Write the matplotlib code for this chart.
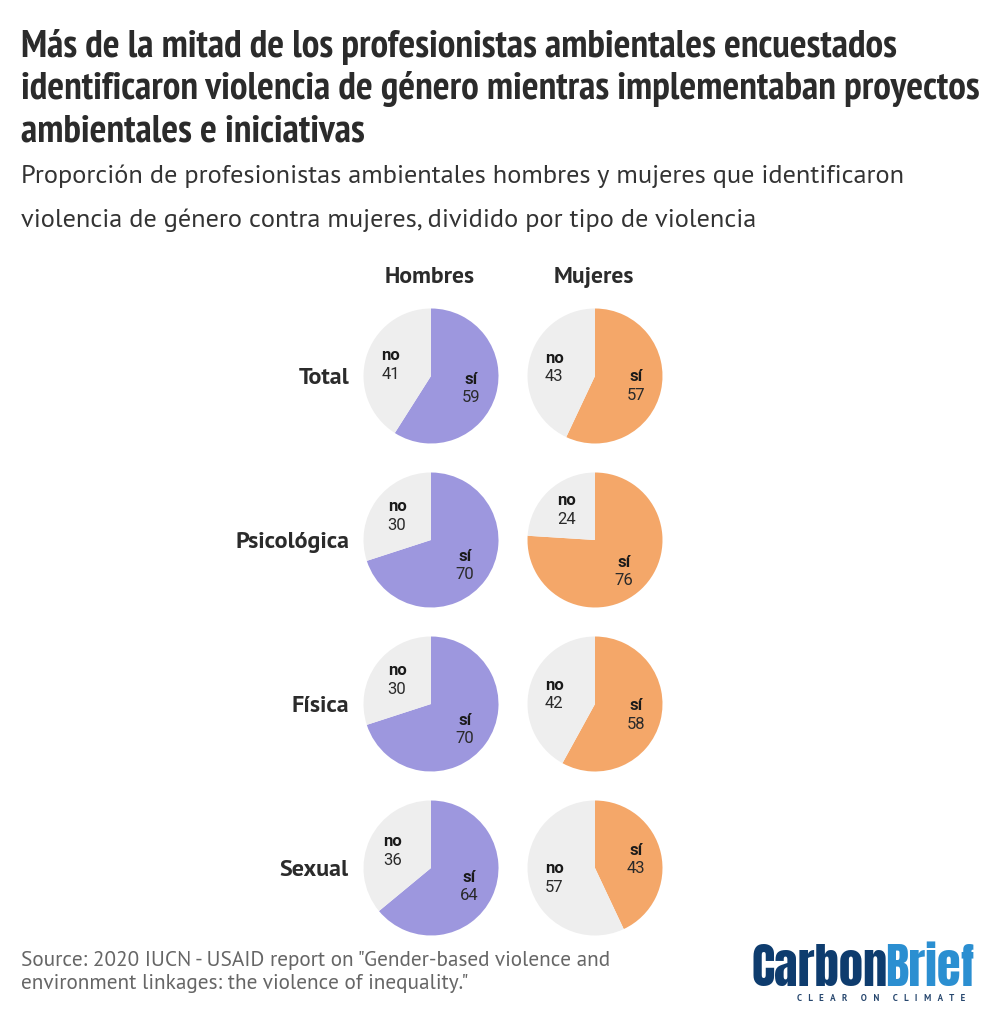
"""Small-multiple pies: gender-based violence identified by environmental professionals."""
import matplotlib
matplotlib.use("Agg")
import matplotlib.pyplot as plt
import numpy as np

W, H = 997, 1024

TITLE_LINES = [
    "Más de la mitad de los profesionistas ambientales encuestados",
    "identificaron violencia de género mientras implementaban proyectos",
    "ambientales e iniciativas",
]
SUBTITLE_LINES = [
    "Proporción de profesionistas ambientales hombres y mujeres que identificaron",
    "violencia de género contra mujeres, dividido por tipo de violencia",
]
SOURCE_LINES = [
    'Source: 2020 IUCN - USAID report on "Gender-based violence and',
    'environment linkages: the violence of inequality."',
]
COLUMNS = ["Hombres", "Mujeres"]
ROWS = ["Total", "Psicológica", "Física", "Sexual"]
SI_HOMBRES = [59, 70, 70, 64]
SI_MUJERES = [57, 76, 58, 43]
NO_HOMBRES = [41, 30, 30, 36]
NO_MUJERES = [43, 24, 42, 57]

PURPLE = "#9d97de"
ORANGE = "#f4a769"
GREY = "#eeeeee"
DARK = "#2b2b2b"
NARROW = ["PT Sans Narrow", "Roboto", "DejaVu Sans"]
BODY = ["PT Sans", "Open Sans", "DejaVu Sans"]
LABEL = ["Roboto", "DejaVu Sans"]
LOGO = ["Anton", "Roboto", "DejaVu Sans"]

COL_X = [431, 595]
ROW_Y = [376, 540, 704, 868]
R = 67.5


def px_text(fig, x, y, s, **kw):
    # x, y in reference pixels, y measured from the top
    kw.setdefault("va", "baseline")
    return fig.text(x / W, 1 - y / H, s, **kw)


def draw_pie(fig, cx, cy, si, no, color):
    ax = fig.add_axes([(cx - R) / W, 1 - (cy + R) / H, 2 * R / W, 2 * R / H])
    ax.pie([si, no], colors=[color, GREY], startangle=90, counterclock=False,
           radius=1, wedgeprops={"linewidth": 0})
    ax.set_xlim(-1, 1)
    ax.set_ylim(-1, 1)
    ax.set_aspect("equal")
    # labels sit on the arc centroid of each slice
    for frac_mid, word, val in [(si / 2, "sí", si), (si + no / 2, "no", no)]:
        ang = 2 * np.pi * frac_mid / 100
        lx = cx + 42 * np.sin(ang)
        ly = cy - 42 * np.cos(ang)
        px_text(fig, lx, ly - 8.5, word, ha="center", va="center", family=LABEL,
                fontsize=12, fontweight="bold", color="#1a1a1a")
        px_text(fig, lx, ly + 10, str(val), ha="center", va="center", family=LABEL,
                fontsize=12, color="#2a2a2a")


def main():
    fig = plt.figure(figsize=(W / 100, H / 100), dpi=100, facecolor="white")

    for y, line in zip([57, 99, 141], TITLE_LINES):
        px_text(fig, 21, y, line, family=NARROW, fontsize=28.4, fontweight="bold", color=DARK)
    for y, line in zip([183, 227], SUBTITLE_LINES):
        px_text(fig, 21, y, line, family=BODY, fontsize=19.03, color="#333333")

    for cx, name in zip(COL_X, COLUMNS):
        px_text(fig, cx - 1, 283, name, ha="center", family=BODY, fontsize=17,
                fontweight="bold", color=DARK)
    for cy, name in zip(ROW_Y, ROWS):
        px_text(fig, 349, cy + 8, name, ha="right", family=BODY, fontsize=17.4,
                fontweight="bold", color=DARK)

    for i, cy in enumerate(ROW_Y):
        draw_pie(fig, COL_X[0], cy, SI_HOMBRES[i], NO_HOMBRES[i], PURPLE)
        draw_pie(fig, COL_X[1], cy, SI_MUJERES[i], NO_MUJERES[i], ORANGE)

    for y, line in zip([966, 989], SOURCE_LINES):
        px_text(fig, 21, y, line, family=BODY, fontsize=15.3, color="#666666")

    # logo, as text
    px_text(fig, 751, 986, "Carbon", family=LOGO, fontsize=35, color="#0e3c6e")
    px_text(fig, 885, 986, "Brief", family=LOGO, fontsize=35, color="#2b8fd1")
    px_text(fig, 797, 1001, "C   L   E   A   R      O   N      C   L   I   M   A   T   E",
            family=BODY, fontsize=6.5, fontweight="bold", color="#27476e")

    fig.savefig("out.png", dpi=100)


if __name__ == "__main__":
    main()
